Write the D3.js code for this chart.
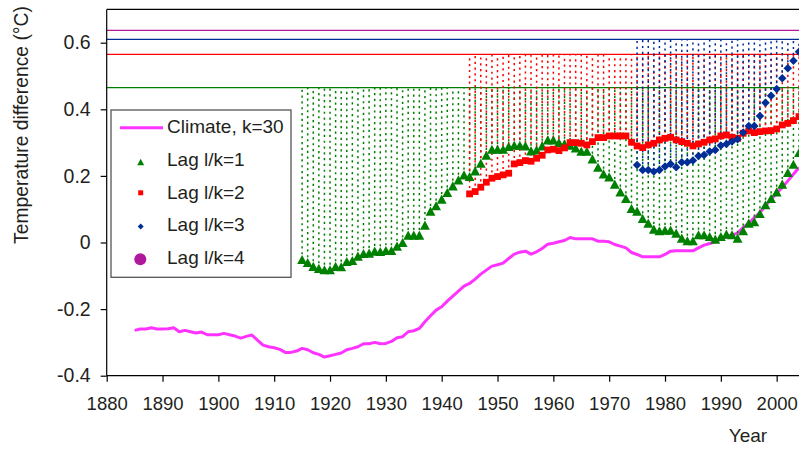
<!DOCTYPE html>
<html><head><meta charset="utf-8">
<script src="https://cdn.jsdelivr.net/npm/d3@7/dist/d3.min.js"></script>
<style>
body{margin:0;background:#fff}
svg{display:block}
text{font-family:Arial,"Liberation Sans",sans-serif;fill:#231f20}
</style>
</head><body>
<svg id="chart" width="799" height="449"></svg>
<script>
// ---------- data ----------
const xTicks = [1880,1890,1900,1910,1920,1930,1940,1950,1960,1970,1980,1990,2000];
const yTicks = [-0.4,-0.2,0,0.2,0.4,0.6];
const yTickLabels = ["-0.4","-0.2","0","0.2","0.4","0.6"];

const climateStart = 1885;
const climate = [
 -0.264,-0.260,-0.260,-0.256,-0.260,-0.260,-0.259,-0.256,-0.268,-0.264,
 -0.268,-0.272,-0.269,-0.277,-0.277,-0.277,-0.273,-0.277,-0.281,-0.287,
 -0.282,-0.278,-0.293,-0.308,-0.313,-0.316,-0.321,-0.330,-0.330,-0.326,
 -0.318,-0.322,-0.331,-0.336,-0.344,-0.340,-0.336,-0.332,-0.322,-0.318,
 -0.313,-0.304,-0.304,-0.300,-0.304,-0.303,-0.297,-0.286,-0.283,-0.268,
 -0.265,-0.258,-0.238,-0.220,-0.203,-0.193,-0.176,-0.161,-0.146,-0.131,
 -0.123,-0.110,-0.095,-0.083,-0.071,-0.067,-0.062,-0.048,-0.035,-0.029,
 -0.026,-0.035,-0.028,-0.018,-0.005,-0.002,0.002,0.006,0.015,0.011,
 0.011,0.011,0.011,0.004,0.004,0.002,-0.006,-0.011,-0.016,-0.030,
 -0.036,-0.043,-0.043,-0.043,-0.043,-0.036,-0.026,-0.025,-0.025,-0.025,
 -0.025,-0.016,-0.008,-0.003,0.002,0.010,0.017,0.022,0.028,0.045,
 0.058,0.075,0.090,0.110,0.130,0.148,0.165,0.185,0.205,0.225
];

const lag1Start = 1915;
const lag1 = [
 -0.053,-0.062,-0.074,-0.080,-0.084,-0.084,-0.074,-0.075,-0.059,-0.056,
 -0.043,-0.035,-0.034,-0.028,-0.029,-0.026,-0.026,-0.013,-0.002,0.020,
 0.020,0.020,0.050,0.092,0.108,0.128,0.148,0.168,0.186,0.201,
 0.196,0.213,0.236,0.260,0.278,0.278,0.278,0.286,0.290,0.290,
 0.288,0.273,0.276,0.288,0.306,0.306,0.298,0.294,0.290,0.282,
 0.272,0.272,0.249,0.224,0.204,0.195,0.173,0.150,0.130,0.100,
 0.092,0.070,0.056,0.038,0.033,0.035,0.035,0.026,0.011,0.003,
 0.003,0.021,0.021,0.016,0.008,0.016,0.023,0.021,0.011,0.033,
 0.056,0.060,0.085,0.111,0.130,0.150,0.173,0.208,0.233,0.268
];

const lag2Start = 1945;
const lag2 = [
 0.146,0.153,0.166,0.181,0.193,0.198,0.203,0.208,0.236,0.240,
 0.246,0.244,0.253,0.262,0.278,0.280,0.276,0.284,0.300,0.300,
 0.298,0.293,0.303,0.315,0.315,0.320,0.320,0.320,0.320,0.301,
 0.290,0.285,0.293,0.298,0.308,0.313,0.316,0.308,0.303,0.298,
 0.290,0.296,0.301,0.308,0.311,0.320,0.323,0.316,0.313,0.328,
 0.335,0.330,0.333,0.335,0.336,0.341,0.353,0.358,0.366,0.378
];

const lag3Start = 1975;
const lag3 = [
 0.233,0.218,0.218,0.213,0.218,0.228,0.236,0.226,0.241,0.241,
 0.246,0.260,0.263,0.273,0.278,0.291,0.296,0.303,0.310,0.330,
 0.350,0.350,0.380,0.420,0.441,0.461,0.493,0.523,0.546,0.573
];

// reference levels (max of each lag series): lag1, lag2, lag3, lag4
const levels = [0.465, 0.565, 0.610, 0.637];
const levelColors = ["#008000","#ff0000","#002d96","#b0199b"];

const legendLabels = ["Climate, k=30","Lag l/k=1","Lag l/k=2","Lag l/k=3","Lag l/k=4"];

// ---------- scales ----------
const svg = d3.select("#chart");
const x = d3.scaleLinear().domain([1880, 2004]).range([106.7, 799]);
const y = d3.scaleLinear().domain([-0.4, 0.7]).range([375.7, 9.4]);

const toPts = (start, arr) => arr.map((v, i) => ({yr: start + i, v}));
const cPts = toPts(climateStart, climate);
const s1 = toPts(lag1Start, lag1);
const s2 = toPts(lag2Start, lag2);
const s3 = toPts(lag3Start, lag3);

// ---------- frame ----------
svg.append("line").attr("x1", x(1880)).attr("x2", x(2004)).attr("y1", y(0.7)).attr("y2", y(0.7))
  .attr("stroke", "#000").attr("stroke-width", 1.2);

// horizontal reference lines
const hl = svg.append("g");
levels.forEach((lv, i) => {
  hl.append("line").attr("x1", x(1880)).attr("x2", x(2004))
    .attr("y1", y(lv)).attr("y2", y(lv))
    .attr("stroke", levelColors[i]).attr("stroke-width", 1.4);
});

// climate line
svg.append("path").datum(cPts)
  .attr("fill", "none").attr("stroke", "#ff33ff").attr("stroke-width", 3)
  .attr("stroke-linejoin", "round")
  .attr("d", d3.line().x(d => x(d.yr)).y(d => y(d.v)));

// dotted drop lines (drawn from each point up to its series level)
function drops(pts, level, color) {
  svg.append("g").selectAll("line").data(pts).join("line")
    .attr("x1", d => x(d.yr)).attr("x2", d => x(d.yr))
    .attr("y1", d => y(d.v)).attr("y2", y(level))
    .attr("stroke", color).attr("stroke-width", 1.5)
    .attr("stroke-dasharray", "2.2,3.6");
}
drops(s1, levels[0], levelColors[0]);
drops(s2, levels[1], levelColors[1]);
drops(s3, levels[2], levelColors[2]);

// markers
const triPath = (s) => `M0,${-s*0.62}L${s*0.58},${s*0.45}L${-s*0.58},${s*0.45}Z`;
const sqPath = (s) => `M${-s/2},${-s/2}h${s}v${s}h${-s}Z`;
const diaPath = (s) => `M0,${-s/2}L${s/2},0L0,${s/2}L${-s/2},0Z`;

svg.append("g").selectAll("path").data(s1).join("path")
  .attr("transform", d => `translate(${x(d.yr)},${y(d.v)})`)
  .attr("d", triPath(8.5)).attr("fill", "#008000");
svg.append("g").selectAll("path").data(s2).join("path")
  .attr("transform", d => `translate(${x(d.yr)},${y(d.v)})`)
  .attr("d", sqPath(6.8)).attr("fill", "#ff0000");
svg.append("g").selectAll("path").data(s3).join("path")
  .attr("transform", d => `translate(${x(d.yr)},${y(d.v)})`)
  .attr("d", diaPath(8.5)).attr("fill", "#002d96");

// ---------- axes ----------
const yAxis = svg.append("g").attr("transform", `translate(${x(1880)},0)`)
  .call(d3.axisLeft(y).tickValues(yTicks).tickSize(6).tickPadding(10)
    .tickFormat((d, i) => yTickLabels[i]));
yAxis.select(".domain").attr("d", `M0,${y(0.7)}V${y(-0.4)}`).attr("stroke", "#000").attr("stroke-width", 1.2);
yAxis.selectAll(".tick line").attr("stroke", "#000").attr("stroke-width", 1.2);
yAxis.selectAll("text").style("font-size", "19.5px").attr("fill", "#231f20");

const xAxis = svg.append("g").attr("transform", `translate(0,${y(-0.4)})`)
  .call(d3.axisBottom(x).tickValues(xTicks).tickSize(6).tickPadding(15).tickFormat(d3.format("d")));
xAxis.select(".domain").attr("d", `M${x(1880)},0H${x(2004)}`).attr("stroke", "#000").attr("stroke-width", 1.2);
xAxis.selectAll(".tick line").attr("stroke", "#000").attr("stroke-width", 1.2);
xAxis.selectAll("text").style("font-size", "18.5px").attr("fill", "#231f20");

svg.append("text").attr("transform", "translate(28,125) rotate(-90)")
  .attr("text-anchor", "middle").style("font-size", "19.3px")
  .text("Temperature difference (°C)");
svg.append("text").attr("x", 748).attr("y", 441.5)
  .attr("text-anchor", "middle").style("font-size", "19px").text("Year");

// ---------- legend ----------
const lg = svg.append("g");
lg.append("rect").attr("x", 111).attr("y", 110).attr("width", 180).attr("height", 167.3)
  .attr("fill", "#fff").attr("stroke", "#555").attr("stroke-width", 1.3);
const baselines = [133, 165.7, 198.5, 231.2, 264];
legendLabels.forEach((t, i) => {
  lg.append("text").attr("x", 167).attr("y", baselines[i]).style("font-size", "19px").text(t);
});
lg.append("line").attr("x1", 120).attr("x2", 163).attr("y1", 127.7).attr("y2", 127.7)
  .attr("stroke", "#ff33ff").attr("stroke-width", 3);
lg.append("path").attr("transform", "translate(140.7,162.5)").attr("d", triPath(6)).attr("fill", "#008000");
lg.append("path").attr("transform", "translate(140.7,192.8)").attr("d", sqPath(5)).attr("fill", "#ff0000");
lg.append("path").attr("transform", "translate(140.7,226.5)").attr("d", diaPath(6)).attr("fill", "#002d96");
lg.append("circle").attr("cx", 140.3).attr("cy", 259.3).attr("r", 6).attr("fill", "#b0199b");
</script>
</body></html>
